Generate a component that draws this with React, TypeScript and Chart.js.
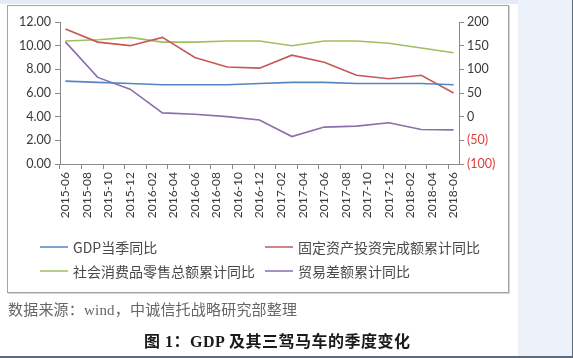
import React, { useEffect, useRef } from 'react';
import { Chart, registerables } from 'chart.js';

Chart.register(...registerables);

// Monthly category axis (labels shown every 2 months)
const months: string[] = [
  '2015-06', '2015-07', '2015-08', '2015-09', '2015-10', '2015-11', '2015-12',
  '2016-01', '2016-02', '2016-03', '2016-04', '2016-05', '2016-06', '2016-07',
  '2016-08', '2016-09', '2016-10', '2016-11', '2016-12', '2017-01', '2017-02',
  '2017-03', '2017-04', '2017-05', '2017-06', '2017-07', '2017-08', '2017-09',
  '2017-10', '2017-11', '2017-12', '2018-01', '2018-02', '2018-03', '2018-04',
  '2018-05', '2018-06',
];

// Quarterly observation dates
const quarters: string[] = [
  '2015-06', '2015-09', '2015-12', '2016-03', '2016-06', '2016-09', '2016-12',
  '2017-03', '2017-06', '2017-09', '2017-12', '2018-03', '2018-06',
];

const gdp: number[] = [7.0, 6.9, 6.8, 6.7, 6.7, 6.7, 6.8, 6.9, 6.9, 6.8, 6.8, 6.8, 6.7];
const fixedAsset: number[] = [11.4, 10.3, 10.0, 10.7, 9.0, 8.2, 8.1, 9.2, 8.6, 7.5, 7.2, 7.5, 6.0];
const retail: number[] = [10.4, 10.5, 10.7, 10.3, 10.3, 10.4, 10.4, 10.0, 10.4, 10.4, 10.2, 9.8, 9.4];
const tradeBalance: number[] = [158, 83, 58, 8, 5, 0, -7, -42, -22, -20, -13, -27, -28];

const seriesNames: string[] = [
  'GDP当季同比',
  '固定资产投资完成额累计同比',
  '社会消费品零售总额累计同比',
  '贸易差额累计同比',
];
const seriesColors: string[] = ['#5586c2', '#c55956', '#a0bf62', '#8a6fab'];

const AXIS = '#8a8a8a';
const TEXT = '#3a3a3a';
const NEG = '#e0403a';

const toPoints = (vals: number[]) => quarters.map((q, i) => ({ x: q, y: vals[i] }));

export default function App() {
  const ref = useRef<HTMLCanvasElement | null>(null);

  useEffect(() => {
    if (!ref.current) return;
    const chart = new Chart(ref.current, {
      type: 'line',
      data: {
        labels: months,
        datasets: [
          { label: seriesNames[0], data: toPoints(gdp), borderColor: seriesColors[0], yAxisID: 'y' },
          { label: seriesNames[1], data: toPoints(fixedAsset), borderColor: seriesColors[1], yAxisID: 'y' },
          { label: seriesNames[2], data: toPoints(retail), borderColor: seriesColors[2], yAxisID: 'y' },
          { label: seriesNames[3], data: toPoints(tradeBalance), borderColor: seriesColors[3], yAxisID: 'y1' },
        ] as any,
      },
      options: {
        responsive: false,
        animation: false,
        devicePixelRatio: 1,
        layout: { padding: { top: 22, left: 0, right: 0, bottom: 0 } },
        plugins: { legend: { display: false }, tooltip: { enabled: false } },
        elements: {
          point: { radius: 0, hoverRadius: 0 },
          line: { tension: 0, borderWidth: 1.6, fill: false },
        },
        scales: {
          x: {
            type: 'category',
            offset: true,
            grid: {
              offset: true,
              drawOnChartArea: false,
              drawTicks: true,
              tickLength: 5,
              color: (ctx: any) => (ctx.index % 2 === 0 ? AXIS : 'rgba(0,0,0,0)'),
            },
            border: { display: true, color: AXIS, width: 1 },
            ticks: {
              autoSkip: false,
              maxRotation: 90,
              minRotation: 90,
              padding: 3,
              color: TEXT,
              font: { family: 'Lato', size: 12 },
              callback: (_v: any, i: number) => (i % 2 === 0 ? months[i] : ''),
            },
            afterFit: (s: any) => { s.height = 194; },
          },
          y: {
            position: 'left',
            min: 0,
            max: 12,
            grid: { drawOnChartArea: false, drawTicks: true, tickLength: 5, color: AXIS },
            border: { display: true, color: AXIS, width: 1 },
            ticks: {
              stepSize: 2,
              padding: 4,
              color: TEXT,
              font: { family: 'Lato', size: 12.5 },
              callback: (v: any) => Number(v).toFixed(2),
            },
            afterFit: (s: any) => { s.width = 60; },
          },
          y1: {
            position: 'right',
            min: -100,
            max: 200,
            grid: { drawOnChartArea: false, drawTicks: true, tickLength: 5, color: AXIS },
            border: { display: true, color: AXIS, width: 1 },
            ticks: {
              stepSize: 50,
              padding: 3,
              color: (ctx: any) => (ctx.tick && ctx.tick.value < 0 ? NEG : TEXT),
              font: { family: 'Lato', size: 12.5 },
              callback: (v: any) => (Number(v) < 0 ? `(${-Number(v)})` : String(v)),
            },
            afterFit: (s: any) => { s.width = 114; },
          },
        },
      } as any,
    });
    return () => chart.destroy();
  }, []);

  const cjk = '"Noto Sans CJK SC", "Noto Sans", sans-serif';
  const legendItem = (i: number, left: number, top: number) => (
    <div key={i} style={{ position: 'absolute', left, top, height: 20, display: 'flex', alignItems: 'center' }}>
      <div style={{ width: 28, height: 2, background: seriesColors[i], opacity: 0.75 }} />
      <span style={{ marginLeft: 5, fontFamily: cjk, fontSize: 14, color: '#484848', whiteSpace: 'nowrap', lineHeight: '20px' }}>
        {seriesNames[i]}
      </span>
    </div>
  );

  return (
    <div style={{ position: 'absolute', left: 0, top: 0, width: 573, height: 358, overflow: 'hidden', background: '#ffffff' }}>
      <div style={{ position: 'absolute', left: 0, top: 0, width: 573, height: 4, background: '#e5ecf7' }} />
      <div style={{ position: 'absolute', left: 518, top: 0, width: 55, height: 356, background: '#edf1f9' }} />
      <div style={{ position: 'absolute', left: 572, top: 0, width: 1, height: 358, background: '#5d6b7d' }} />
      <div style={{ position: 'absolute', left: 0, top: 356, width: 573, height: 2, background: '#5d6b7d' }} />
      <div style={{ position: 'absolute', left: 7, top: 5, width: 500, height: 286, border: '1px solid #a3a3a3', boxShadow: '1px 1px 0 #d4d4d4', background: '#ffffff' }} />
      <canvas ref={ref} width={573} height={358} style={{ position: 'absolute', left: 0, top: 0 }} />
      {legendItem(0, 40, 237)}
      {legendItem(1, 265, 237)}
      {legendItem(2, 40, 261)}
      {legendItem(3, 265, 261)}
      <div style={{ position: 'absolute', left: 8, top: 300, fontFamily: '"Liberation Serif", "Noto Sans CJK SC", serif', fontSize: 15, letterSpacing: 0.2, color: '#666666', whiteSpace: 'nowrap', lineHeight: '20px' }}>
        数据来源：wind，中诚信托战略研究部整理
      </div>
      <div style={{ position: 'absolute', left: 144, top: 332, fontFamily: '"Liberation Serif", "Noto Sans CJK SC", serif', fontSize: 16, fontWeight: 'bold', letterSpacing: 0.5, color: '#1a1a1a', whiteSpace: 'nowrap', lineHeight: '20px' }}>
        图 1：GDP 及其三驾马车的季度变化
      </div>
    </div>
  );
}
